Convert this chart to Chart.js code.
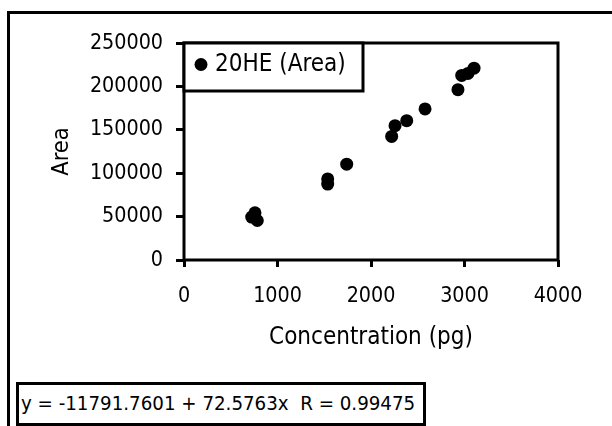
<!DOCTYPE html>
<html>
<head>
<meta charset="utf-8">
<script src="https://cdn.jsdelivr.net/npm/chart.js@4"></script>
<style>
  html, body { margin: 0; padding: 0; background: #ffffff; overflow: hidden; width: 612px; height: 426px; }
  #frame { position: absolute; left: 7px; top: 11px; width: 700px; height: 500px; border: 3px solid #000; box-sizing: border-box; }
  #wrap { position: absolute; left: 0; top: 0; width: 612px; height: 426px; }
  #eq { position: absolute; left: 16px; top: 382px; width: 410px; height: 44px; border: 3px solid #000; box-sizing: border-box;
        font-family: "DejaVu Sans Condensed", "DejaVu Sans", sans-serif; font-size: 20.3px; line-height: 36px; padding-left: 2px;
        white-space: pre; color: #000; background: #fff; }
</style>
</head>
<body>
<div id="frame"></div>
<div id="wrap"><canvas id="c" width="612" height="426"></canvas></div>
<div id="eq">y = -11791.7601 + 72.5763x  R = 0.99475</div>
<script>
const seriesName = "20HE (Area)";
const concentration = [724, 759, 784, 1537, 1537, 1740, 2221, 2257, 2382, 2578, 2930, 2970, 3037, 3102];
const area = [49400, 54400, 45500, 93400, 87500, 110400, 142400, 154700, 160500, 174100, 196200, 212600, 214900, 221000];
const xTicks = [0, 1000, 2000, 3000, 4000];
const yTicks = [0, 50000, 100000, 150000, 200000, 250000];
const xTitle = "Concentration (pg)";
const yTitle = "Area";

const FONT = "'DejaVu Sans Condensed', 'DejaVu Sans', sans-serif";

const points = concentration.map((x, i) => ({ x: x, y: area[i] }));

const boxPlugin = {
  id: 'boxes',
  afterDraw(chart) {
    const ctx = chart.ctx, a = chart.chartArea;
    ctx.save();
    ctx.strokeStyle = '#000';
    ctx.lineWidth = 3;
    ctx.strokeRect(a.left, a.top, a.right - a.left, a.bottom - a.top);
    // legend box
    ctx.fillStyle = '#fff';
    ctx.fillRect(a.left, a.top, 179, 48);
    ctx.strokeRect(a.left, a.top, 179, 48);
    const ds = chart.data.datasets[0];
    ctx.fillStyle = ds.backgroundColor;
    ctx.beginPath();
    ctx.arc(a.left + 17, a.top + 21.5, 6.5, 0, Math.PI * 2);
    ctx.fill();
    ctx.fillStyle = '#000';
    ctx.font = "24px " + FONT;
    ctx.textAlign = 'left';
    ctx.textBaseline = 'middle';
    ctx.fillText(ds.label, a.left + 31, a.top + 22);
    ctx.restore();
  }
};

new Chart(document.getElementById('c'), {
  type: 'scatter',
  data: {
    datasets: [{
      label: seriesName,
      data: points,
      backgroundColor: '#000',
      borderColor: '#000',
      borderWidth: 0,
      pointRadius: 6.5,
      pointHoverRadius: 6.5
    }]
  },
  options: {
    responsive: false,
    animation: false,
    events: [],
    layout: { padding: { top: 43, right: 54, bottom: 74, left: 40 } },
    plugins: {
      legend: { display: false },
      tooltip: { enabled: false }
    },
    scales: {
      x: {
        type: 'linear',
        min: 0, max: 4000,
        afterBuildTicks(s) { s.ticks = xTicks.map(v => ({ value: v })); },
        afterFit(s) { s.height = 92; },
        border: { display: false },
        grid: { display: true, drawOnChartArea: false, drawTicks: true, tickLength: 7, tickWidth: 3, tickColor: '#000' },
        ticks: { color: '#000', padding: 17, font: { family: FONT, size: 21.3 }, callback: v => String(v) },
        title: { display: true, text: xTitle, color: '#000', font: { family: FONT, size: 24 }, padding: { top: 0, bottom: 0 } }
      },
      y: {
        type: 'linear',
        min: 0, max: 250000,
        afterBuildTicks(s) { s.ticks = yTicks.map(v => ({ value: v })); },
        afterFit(s) { s.width = 144; },
        border: { display: false },
        grid: { display: true, drawOnChartArea: false, drawTicks: true, tickLength: 8, tickWidth: 3, tickColor: '#000' },
        ticks: { color: '#000', padding: 13, font: { family: FONT, size: 21.3 }, callback: v => String(v) },
        title: { display: true, text: yTitle, color: '#000', font: { family: FONT, size: 23.5 }, padding: { top: 8, bottom: 0 } }
      }
    }
  },
  plugins: [boxPlugin]
});
</script>
</body>
</html>
